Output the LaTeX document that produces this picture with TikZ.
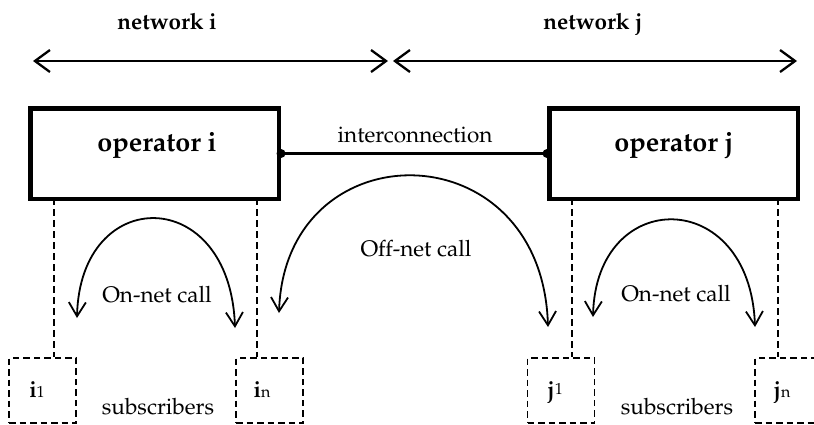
\documentclass[tikz,border=0pt]{standalone}
\usepackage[T1]{fontenc}
\usepackage{mathpazo}
\usetikzlibrary{arrows.meta}
\begin{document}
\begin{tikzpicture}[x=1pt,y=-1pt,
  lbl/.style={anchor=base,inner sep=0pt,font=\fontsize{22.5}{27}\selectfont},
  blbl/.style={lbl,font=\fontsize{22.5}{27}\selectfont\bfseries},
  oplbl/.style={lbl,font=\fontsize{27}{32}\selectfont\bfseries},
  opbox/.style={draw,line width=4.5pt,minimum width=248.5pt,minimum height=90.5pt,inner sep=0pt},
  subbox/.style={draw,line width=1.8pt,dash pattern=on 6.5pt off 4pt,minimum width=67pt,minimum height=65pt,inner sep=0pt},
  link/.style={draw,line width=1.7pt,dash pattern=on 7pt off 4pt},
  span/.style={line width=2.3pt,{Straight Barb[length=15pt,width=22pt]}-{Straight Barb[length=15pt,width=22pt]}},
  callarc/.style={line width=1.8pt,{Straight Barb[length=14pt,width=17pt]}-{Straight Barb[length=14pt,width=17pt]}},
  dot/.style={circle,fill,inner sep=0pt,minimum size=9pt}]
\useasboundingbox (0,0) rectangle (814,424);
\clip (0,0) rectangle (814,424);

% network extents
\coordinate (ni-l) at (33,61);
\coordinate (ni-r) at (388,61);
\coordinate (nj-l) at (393,61);
\coordinate (nj-r) at (797,61);
\draw[span] (ni-l) -- (ni-r);
\draw[span] (nj-l) -- (nj-r);
\node[blbl] (neti) at (167,29) {network i};
\node[blbl] (netj) at (593,29) {network j};

% operators and interconnection
\node[opbox] (opi) at (154.5,153.5) {};
\node[opbox] (opj) at (673.5,153.5) {};
\node[oplbl] (opi-t) at (157,151) {operator i};
\node[oplbl] (opj-t) at (674,151) {operator j};
\draw[line width=2.8pt] (opi.east) -- (opj.west);
\node[dot] (di) at (opi.east) {};
\node[dot] (dj) at (opj.west) {};
\node[lbl] (ic) at (415,142) {interconnection};

% subscriber groups
\node[subbox] (i1) at (42.5,390.5) {};
\node[subbox] (in) at (269.5,390.5) {};
\node[subbox] (j1) at (561,390.5) {};
\node[subbox] (jn) at (788.5,390.5) {};
\node[blbl] (i1-t) at (37,397) {i{\mdseries\fontsize{16}{18}\selectfont 1}};
\node[blbl] (in-t) at (262,397) {i{\mdseries\fontsize{16}{18}\selectfont n}};
\node[blbl] (j1-t) at (555,397) {j{\mdseries\fontsize{16}{18}\selectfont\raisebox{3pt}{1}}};
\node[blbl] (jn-t) at (782,397) {j{\mdseries\fontsize{16}{18}\selectfont n}};
\node[lbl] (subi) at (158,414) {subscribers};
\node[lbl] (subj) at (677,414) {subscribers};

% access lines
\coordinate (xa) at (54,0);
\coordinate (xb) at (257,0);
\coordinate (xc) at (572,0);
\coordinate (xd) at (778,0);
\draw[link] ([yshift=3pt]opi.south -| xa) -- (i1.north -| xa);
\draw[link] ([yshift=3pt]opi.south -| xb) -- (in.north -| xb);
\draw[link] ([yshift=3pt]opj.south -| xc) -- (j1.north -| xc);
\draw[link] ([yshift=3pt]opj.south -| xd) -- (jn.north -| xd);

% calls
\coordinate (ca) at (77,318);
\coordinate (cb) at (235,328);
\coordinate (cc) at (593,317);
\coordinate (cd) at (755,327);
\coordinate (ce) at (279,313);
\coordinate (cf) at (548,327);
\draw[callarc] (ca) .. controls (80,184) and (230,184) .. (cb);
\draw[callarc] (cc) .. controls (596,186) and (750,186) .. (cd);
\draw[callarc] (ce) .. controls (285,128) and (542,128) .. (cf);
\node[lbl] (oni) at (157,302) {On-net call};
\node[lbl] (onj) at (676,301) {On-net call};
\node[lbl] (off) at (416,256) {Off-net call};
\end{tikzpicture}
\end{document}
